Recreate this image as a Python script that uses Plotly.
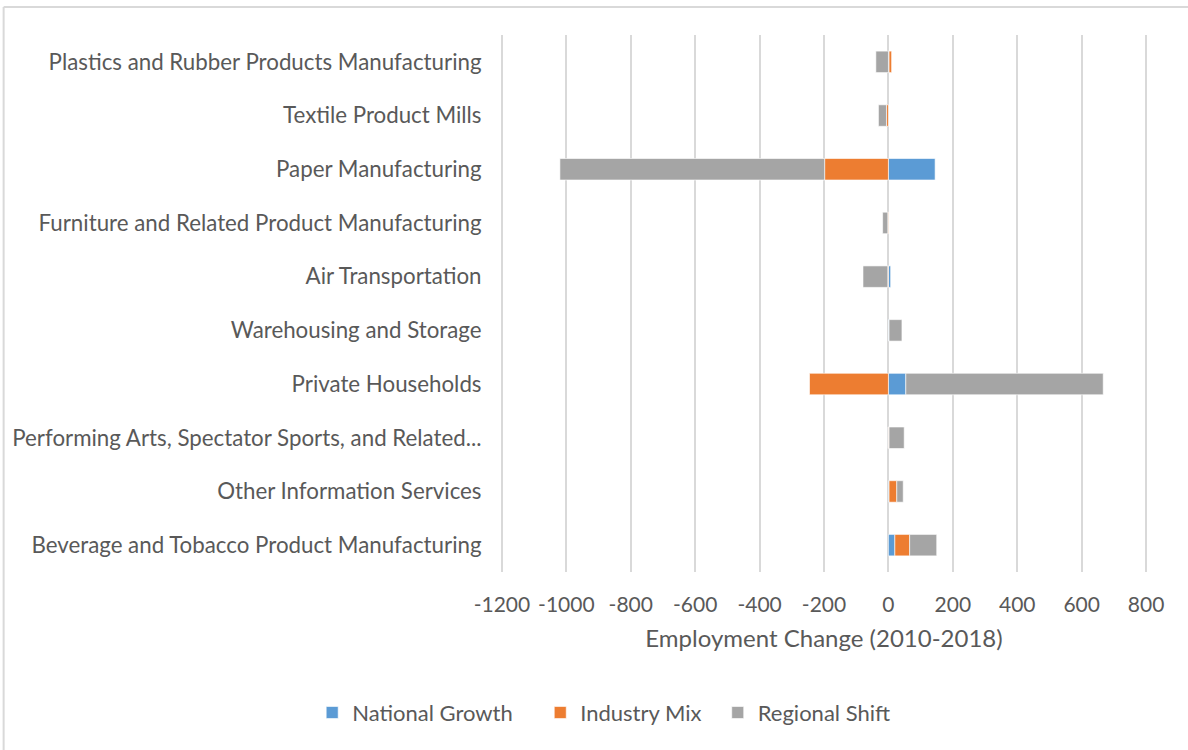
import plotly.graph_objects as go

# Industries, listed bottom to top as they appear on the axis
industries = [
    "Beverage and Tobacco Product Manufacturing",
    "Other Information Services",
    "Performing Arts, Spectator Sports, and Related...",
    "Private Households",
    "Warehousing and Storage",
    "Air Transportation",
    "Furniture and Related Product Manufacturing",
    "Paper Manufacturing",
    "Textile Product Mills",
    "Plastics and Rubber Products Manufacturing",
]

# Shift-share components of employment change, 2010-2018
national_growth = [20, 2, 2, 54, 2, 7, 1, 145, 1, 2]
industry_mix = [46, 24, -1, -245, 0, -2, -2, -198, -6, 8]
regional_shift = [84, 20, 47, 613, 40, -77, -16, -822, -25, -39]

x_ticks = [-1200, -1000, -800, -600, -400, -200, 0, 200, 400, 600, 800]

FONT = "Lato"
TEXT = "#595959"

fig = go.Figure()
# trailing no-break spaces give extra room between legend entries
for name, vals, color, pad in [
    ("National Growth", national_growth, "#5B9BD5", "\u00a0" * 4),
    ("Industry Mix", industry_mix, "#ED7D31", "\u00a0" * 2),
    ("Regional Shift", regional_shift, "#A5A5A5", ""),
]:
    fig.add_trace(go.Bar(
        y=industries, x=vals, name=name + pad, orientation="h",
        marker=dict(color=color, line=dict(color="rgba(255,255,255,0.6)", width=1)),
    ))

fig.update_layout(
    barmode="relative",
    bargap=0.6,
    width=1188, height=750,
    margin=dict(l=500, r=40, t=35, b=178),
    paper_bgcolor="white", plot_bgcolor="white",
    font=dict(family=FONT, size=22, color=TEXT),
    legend=dict(
        orientation="h", x=0.160, xanchor="center", y=-0.262, yanchor="middle",
        font=dict(size=22, color=TEXT), itemwidth=30, traceorder="normal",
    ),
    xaxis=dict(
        range=[-1206, 806], tickvals=x_ticks, ticktext=[str(v) for v in x_ticks],
        showgrid=True, gridcolor="#D9D9D9", gridwidth=2,
        zeroline=True, zerolinecolor="#D9D9D9", zerolinewidth=2,
        ticks="outside", ticklen=14, tickcolor="rgba(0,0,0,0)",
        title=dict(text="Employment Change (2010-2018)", standoff=14,
                   font=dict(size=24, color=TEXT)),
        tickfont=dict(size=21, color=TEXT),
    ),
    yaxis=dict(
        showgrid=False, zeroline=False,
        ticks="outside", ticklen=13, tickcolor="rgba(0,0,0,0)",
        tickfont=dict(size=22.3, color=TEXT),
    ),
    shapes=[
        dict(type="line", xref="paper", yref="paper", x0=-0.766, x1=1.2,
             y0=1.052, y1=1.052, line=dict(color="#D9D9D9", width=2)),
        dict(type="line", xref="paper", yref="paper", x0=-0.766, x1=-0.766,
             y0=1.052, y1=-0.4, line=dict(color="#D9D9D9", width=2)),
    ],
)

fig.write_html("out.html")
